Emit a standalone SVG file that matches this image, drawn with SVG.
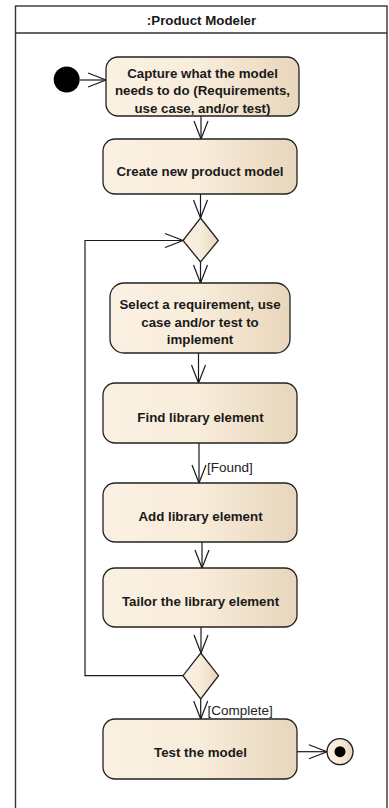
<svg xmlns="http://www.w3.org/2000/svg" width="389" height="808" viewBox="0 0 389 808">
<defs>
<linearGradient id="g" x1="0" y1="0" x2="1" y2="0">
<stop offset="0" stop-color="#FBF1E3"/>
<stop offset="0.5" stop-color="#F8ECDA"/>
<stop offset="1" stop-color="#E8D6BB"/>
</linearGradient>
<marker id="arr" markerUnits="userSpaceOnUse" markerWidth="22" markerHeight="18" viewBox="-20 -9 22 18" refX="0" refY="0" orient="auto">
<path d="M-18,-7 L0,0 L-18,7" fill="none" stroke="#1a1a1a" stroke-width="1.2"/>
</marker>
<style>
.n{fill:url(#g);stroke:#222;stroke-width:1.3}
.t{font-family:"Liberation Sans",Arial,sans-serif;font-weight:bold;font-size:13.3px;fill:#1a1a1a;text-anchor:middle}
.l{font-family:"Liberation Sans",Arial,sans-serif;font-size:13.5px;fill:#222}
.c{fill:none;stroke:#1a1a1a;stroke-width:1.2;marker-end:url(#arr)}
</style>
</defs>
<rect width="389" height="808" fill="#fff"/>
<g id="frame">
<rect x="15.5" y="6" width="371.5" height="810" fill="none" stroke="#333" stroke-width="1.4"/>
<line x1="15.5" y1="33" x2="387" y2="33" stroke="#333" stroke-width="1.4"/>
<text class="t" x="201.5" y="24.5">:Product Modeler</text>
</g>
<g id="connectors">
<path class="c" d="M80,80 L106,80"/>
<path class="c" d="M201,116 L201,139"/>
<path class="c" d="M200.5,194 L200.5,218"/>
<path class="c" d="M200.5,262 L200.5,283"/>
<path class="c" d="M198.5,353 L198.5,383"/>
<path class="c" d="M199,443 L199,483"/>
<path class="c" d="M202,542 L202,568"/>
<path class="c" d="M201,627 L201,653"/>
<path class="c" d="M200.7,699 L200.7,719"/>
<path class="c" d="M183,675.7 L85,675.7 L85,240.5 L183,240.5"/>
<path class="c" d="M297,751.7 L327,751.7"/>
<text class="l" x="207" y="471.5">[Found]</text>
<text class="l" x="207.5" y="714.5">[Complete]</text>
</g>
<g id="start"><circle cx="66.7" cy="79.5" r="13" fill="#000"/></g>
<g id="n1">
<rect class="n" x="106" y="57" width="193" height="59" rx="12"/>
<text class="t" x="202.5" y="77.5">Capture what the model</text>
<text class="t" x="202.5" y="95">needs to do (Requirements,</text>
<text class="t" x="202.5" y="112.5">use case, and/or test)</text>
</g>
<g id="n2">
<rect class="n" x="103" y="139" width="194" height="55" rx="12"/>
<text class="t" x="200" y="175.5">Create new product model</text>
</g>
<g id="d1"><path class="n" d="M200.5,218 L218.3,240.5 L200.5,262 L183,240.5 Z"/></g>
<g id="n3">
<rect class="n" x="110" y="283" width="180" height="70" rx="14"/>
<text class="t" x="200" y="309">Select a requirement, use</text>
<text class="t" x="200" y="326.5">case and/or test to</text>
<text class="t" x="200" y="344">implement</text>
</g>
<g id="n4">
<rect class="n" x="103" y="383" width="194" height="60" rx="12"/>
<text class="t" x="200.5" y="421.5">Find library element</text>
</g>
<g id="n5">
<rect class="n" x="103" y="483" width="194" height="59" rx="12"/>
<text class="t" x="200.5" y="521">Add library element</text>
</g>
<g id="n6">
<rect class="n" x="103" y="568" width="194" height="59" rx="12"/>
<text class="t" x="200.5" y="605.5">Tailor the library element</text>
</g>
<g id="d2"><path class="n" d="M200.7,653 L218.5,675.7 L200.7,699 L183,675.7 Z"/></g>
<g id="n7">
<rect class="n" x="103" y="719" width="194" height="60" rx="12"/>
<text class="t" x="200.5" y="757">Test the model</text>
</g>
<g id="final">
<circle cx="340" cy="751.7" r="13" fill="url(#g)" stroke="#1a1a1a" stroke-width="1.3"/>
<circle cx="340" cy="751.7" r="5.5" fill="#000"/>
</g>
</svg>
